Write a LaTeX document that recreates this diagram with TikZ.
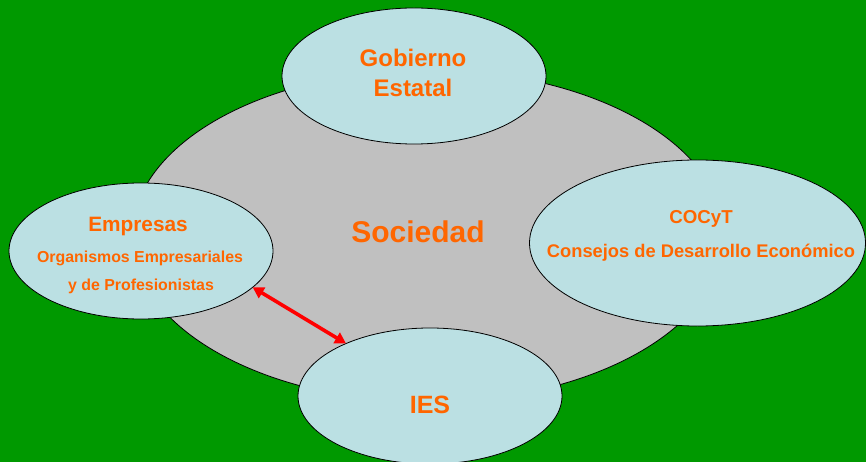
\documentclass[tikz,border=0pt]{standalone}
\usepackage{fontspec}
\setmainfont{Liberation Sans}
\usetikzlibrary{shapes.geometric,arrows.meta}
\definecolor{bggreen}{HTML}{009900}
\definecolor{socgray}{HTML}{C0C0C0}
\definecolor{bubble}{HTML}{BBE0E3}
\definecolor{txtorange}{HTML}{FF6600}
\definecolor{arrred}{HTML}{FF0000}
\tikzset{
  bubblebox/.style={ellipse, draw=black, line width=0.8pt, fill=bubble, inner sep=0pt, outer sep=0pt},
  lbl/.style={anchor=base, text=txtorange, font=\bfseries, inner sep=0pt},
  link/.style={arrred, line width=3.6pt, {Triangle[length=11pt,width=12pt]}-{Triangle[length=11pt,width=12pt]}}
}
\begin{document}
\begin{tikzpicture}[x=1pt,y=-1pt]
\fill[bggreen] (0,0) rectangle (866,462);
\useasboundingbox (0,0) rectangle (866,462);
\node[ellipse, draw=black, line width=0.8pt, fill=socgray, minimum width=592pt, minimum height=332pt, inner sep=0pt, outer sep=0pt] (soc) at (428,236) {};
\node[bubblebox, minimum width=264pt, minimum height=136pt] (gob) at (414,76) {};
\node[bubblebox, minimum width=264pt, minimum height=136pt] (emp) at (141,251) {};
\node[bubblebox, minimum width=336pt, minimum height=166pt] (cocyt) at (697.5,243) {};
\node[bubblebox, minimum width=264pt, minimum height=136pt] (ies) at (430,396) {};
% texts
\node[lbl, font=\bfseries\fontsize{24}{28}\selectfont] (t1) at (413,67) {Gobierno};
\node[lbl, font=\bfseries\fontsize{24}{28}\selectfont] (t2) at (413,97) {Estatal};
\node[lbl, font=\bfseries\fontsize{30}{34}\selectfont] (t3) at (418,242) {Sociedad};
\node[lbl, font=\bfseries\fontsize{20.8}{24}\selectfont] (t4) at (138,231) {Empresas};
\node[lbl, font=\bfseries\fontsize{15.9}{18}\selectfont] (t5) at (140,262) {Organismos Empresariales};
\node[lbl, font=\bfseries\fontsize{15.9}{18}\selectfont] (t6) at (141,290) {y de Profesionistas};
\node[lbl, font=\bfseries\fontsize{18.7}{22}\selectfont] (t7) at (701,223) {COCyT};
\node[lbl, font=\bfseries\fontsize{18.3}{22}\selectfont] (t8) at (701,257) {Consejos de Desarrollo Económico};
\node[lbl, font=\bfseries\fontsize{25}{29}\selectfont] (t9) at (430,413) {IES};
% connector
\draw[link] (emp.-18.6) -- (ies.148);
\end{tikzpicture}
\end{document}
